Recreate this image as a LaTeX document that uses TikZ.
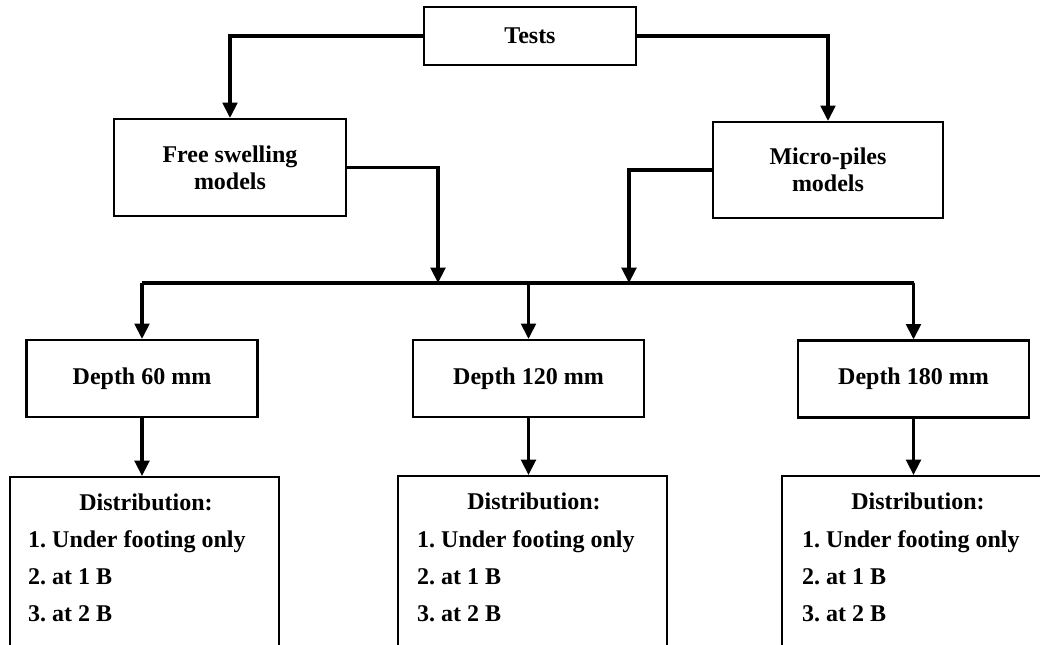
\documentclass[tikz,border=0pt]{standalone}
\usepackage{fontspec}
\setmainfont{Liberation Serif}
\usepackage{tikz}
\usetikzlibrary{arrows.meta, positioning}
\frenchspacing

\begin{document}
\begin{tikzpicture}[x=0.75pt,y=-0.75pt,font=\bfseries\fontsize{18}{20}\selectfont]
  \tikzstyle{block}=[draw,line width=1.6pt,align=center,inner sep=0pt]
  \tikzstyle{depthbox}=[block,minimum width=173.25pt,minimum height=57.75pt]
  \tikzstyle{distbox}=[block,anchor=north,minimum width=201.75pt,minimum height=172.5pt]
  \tikzstyle{listtext}=[anchor=north west,align=left,inner sep=0pt,
    font=\bfseries\fontsize{18}{28}\selectfont]
  \tikzstyle{link}=[line width=2.4pt]
  \tikzstyle{arr}=[link,-{Triangle[width=11pt,length=11.5pt]}]

  \useasboundingbox (0,0) rectangle (1040,645);
  \clip (0,0) rectangle (1040,645);

  \node[block,minimum width=159pt,minimum height=43.5pt]    (tests) at (530,36)    {Tests};
  \node[block,minimum width=174pt,minimum height=72.75pt]   (free)  at (230,167.5) {Free swelling\\models};
  \node[block,minimum width=172.5pt,minimum height=72pt]    (micro) at (828,170)   {Micro-piles\\models};

  \node[depthbox] (d60)  at (142,378.5) {Depth 60 mm};
  \node[depthbox] (d120) at (528.5,378.5) {Depth 120 mm};
  \node[depthbox] (d180) at (913.5,379) {Depth 180 mm};

  \node[distbox] (dist60)  at (144.5,476) {};
  \node[distbox] (dist120) at (532.5,475) {};
  \node[distbox] (dist180) at (916.5,475) {};

  \node (head60)  at ([shift={(1.5,26)}]dist60.north)  {Distribution:};
  \node (head120) at ([shift={(1.5,26)}]dist120.north) {Distribution:};
  \node (head180) at ([shift={(1.5,26)}]dist180.north) {Distribution:};

  \node[listtext] (list60)  at ([shift={(19,54)}]dist60.north west)  {1. Under footing only\\2. at 1 B\\3. at 2 B};
  \node[listtext] (list120) at ([shift={(20,55)}]dist120.north west) {1. Under footing only\\2. at 1 B\\3. at 2 B};
  \node[listtext] (list180) at ([shift={(21,55)}]dist180.north west) {1. Under footing only\\2. at 1 B\\3. at 2 B};

  % joints on the common line
  \coordinate (fjoin) at (438,283);
  \coordinate (mjoin) at (629,283);

  \draw[arr] (tests.west) -| (free.north);
  \draw[arr] (tests.east) -| (micro.north);
  \draw[arr] (free.east) -| (fjoin);
  \draw[arr] (micro.west) -| (mjoin);

  \draw[link] (d60.north |- fjoin) -- (d180.north |- fjoin);
  \draw[arr] (d60.north |- fjoin)  -- (d60.north);
  \draw[arr] (d120.north |- fjoin) -- (d120.north);
  \draw[arr] (d180.north |- fjoin) -- (d180.north);

  \draw[arr] (d60.south)  -- (d60.south |- dist60.north);
  \draw[arr] (d120.south) -- (d120.south |- dist120.north);
  \draw[arr] (d180.south) -- (d180.south |- dist180.north);
\end{tikzpicture}
\end{document}
